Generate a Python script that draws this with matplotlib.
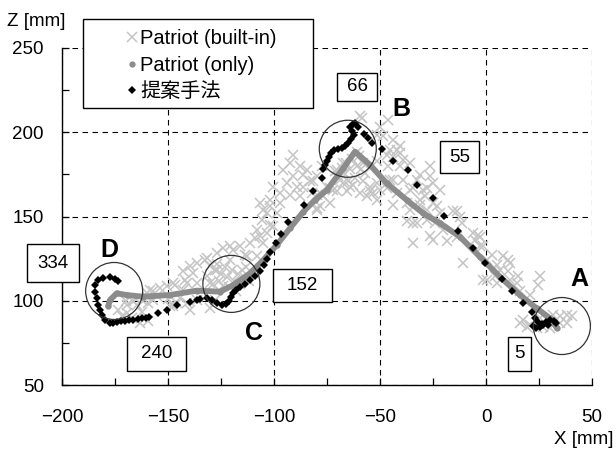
import numpy as np
import matplotlib
matplotlib.use("Agg")
import matplotlib.pyplot as plt
from matplotlib.patches import Ellipse, Rectangle

plt.rcParams['font.family'] = ['Liberation Sans', 'Noto Sans CJK JP']

# Patriot (built-in) samples: X, Z [mm]
builtin_pts = [
    (-46.1, 207.4), (-50.0, 203.4), (-58.6, 208.4), (-51.6, 198.5), (-48.4, 197.5), (-42.1, 189.6),
    (-46.8, 186.6), (-43.7, 185.6), (-40.6, 187.7), (-51.6, 182.7), (-46.1, 179.7), (-40.6, 179.7),
    (-26.4, 179.7), (-32.7, 171.8), (-39.0, 171.8), (-45.3, 171.8), (-50.0, 165.9), (-53.2, 163.9),
    (-56.3, 161.9), (-51.6, 159.9), (-42.1, 163.9), (-35.8, 165.9), (-29.6, 165.9), (-37.4, 158.0),
    (-31.1, 157.0), (-43.7, 157.0), (-24.9, 158.0), (-21.7, 165.9), (-28.0, 148.1), (-21.7, 152.0),
    (-13.8, 153.0), (-12.3, 150.0), (-34.3, 146.1), (-24.9, 136.2), (-34.3, 134.2), (-20.1, 142.1),
    (-13.8, 138.1), (-6.0, 140.1), (-2.8, 138.1), (-10.7, 122.4), (-2.8, 132.2), (0.3, 124.3),
    (8.2, 126.3), (6.6, 118.4), (11.3, 122.4), (14.5, 110.5), (0.3, 112.5), (-84.6, 177.7),
    (-86.2, 167.8), (-78.3, 163.9), (-72.0, 165.9), (-67.3, 169.8), (-64.2, 167.8), (-59.4, 163.9),
    (-54.7, 167.8), (-73.6, 158.0), (-78.3, 156.0),
    (-24.9, 169.8), (-28.8, 161.9), (-15.4, 153.0), (-11.5, 146.1), (-24.1, 146.1), (-26.4, 138.2),
    (-18.5, 135.2), (-3.6, 139.2), (-5.2, 136.2), (-1.3, 132.3), (2.7, 127.3), (10.5, 124.3),
    (5.0, 121.4), (-1.3, 112.5), (4.2, 114.4), (10.5, 117.4), (15.2, 114.4), (11.3, 112.5),
    (5.0, 110.5), (16.0, 105.5), (25.5, 114.4), (24.7, 109.5), (20.8, 103.6), (16.0, 86.8),
    (17.6, 88.7), (20.8, 85.8), (25.5, 89.7), (28.6, 88.7), (31.7, 91.7), (34.9, 90.7),
    (38.0, 91.7), (40.4, 90.7), (27.0, 84.7), (30.2, 83.8), (34.9, 86.8), (38.0, 86.8),
    (23.9, 83.8), (19.2, 84.7),
    (-59.4, 209.4), (-43.7, 195.5), (-40.6, 191.6), (-45.3, 189.6), (-39.0, 183.7), (-35.8, 181.7),
    (-31.1, 174.8), (-26.4, 173.8), (-34.3, 166.9), (-28.0, 166.9), (-31.1, 160.0), (-35.8, 154.0),
    (-28.0, 154.0), (-23.3, 156.0), (-37.4, 147.1), (-32.7, 146.1), (-43.7, 171.8), (-46.8, 166.9),
    (-51.6, 169.8), (-54.7, 164.9), (-57.9, 170.8), (-62.6, 168.8), (-65.7, 164.9), (-70.4, 164.9),
    (-73.6, 166.9), (-79.9, 173.8), (-81.5, 170.8), (-76.8, 161.9), (-82.2, 163.9), (-79.9, 154.0),
    (-68.9, 171.8), (-70.4, 177.7), (-67.3, 181.7), (-77.5, 179.7),
    (-70, 174), (-67, 176), (-64, 178), (-61, 180), (-58, 182), (-66, 182), (-63, 184), (-60, 186),
    (-68, 179), (-57, 176), (-62, 173), (-65, 171), (-59, 178), (-71, 177), (-61, 188),
    (-90.9, 186.6), (-92.5, 181.7), (-87.7, 179.7), (-95.6, 177.7), (-90.9, 173.8), (-86.2, 174.8),
    (-83.0, 170.8), (-94.0, 169.8), (-89.3, 167.8), (-100.3, 167.8), (-97.2, 163.9), (-92.5, 162.9),
    (-87.7, 161.9), (-79.9, 162.9), (-75.1, 167.8), (-79.9, 155.0), (-101.9, 159.9), (-106.6, 158.0),
    (-103.4, 152.0), (-98.7, 152.0), (-105.8, 148.1), (-101.9, 145.1), (-108.2, 142.1), (-103.4, 140.2),
    (-109.0, 137.2), (-105.0, 134.2), (-111.3, 134.2), (-116.0, 132.2), (-119.2, 130.3), (-123.9, 131.3),
    (-127.0, 128.3), (-131.7, 125.3), (-136.5, 122.4), (-130.2, 120.4), (-120.8, 124.3), (-112.9, 126.3),
    (-108.2, 126.3),
    (-105.0, 154.0), (-101.9, 156.0), (-97.2, 158.0), (-100.3, 144.1), (-106.6, 138.2), (-113.7, 127.3),
    (-120.8, 132.2), (-132.5, 124.3), (-139.6, 120.4), (-142.8, 117.4),
    (-128, 118), (-125, 116), (-122, 114), (-119, 112), (-116, 110), (-126, 112), (-123, 120),
    (-120, 118), (-117, 116), (-114, 114), (-121, 108), (-118, 106), (-129, 110), (-113, 120),
    (-124, 109), (-127, 122), (-115, 118), (-112, 112),
    (-138.1, 116.4), (-131.8, 114.4), (-141.2, 110.5), (-147.5, 110.5), (-150.6, 108.5), (-153.8, 107.5),
    (-158.5, 106.5), (-142.8, 106.5), (-136.5, 110.5), (-130.2, 110.5), (-127.0, 118.4), (-159.3, 98.6),
    (-156.9, 100.6), (-164.8, 97.6), (-162.4, 93.6), (-147.5, 96.6), (-139.6, 94.7), (-136.5, 100.6),
    (-144.3, 101.6), (-127.8, 100.6), (-130.2, 95.7),
    (-142.0, 112.5), (-146.7, 109.5), (-156.9, 105.5), (-160.0, 104.6), (-161.6, 99.6), (-166.4, 99.6),
    (-169.5, 97.6), (-173.4, 94.7), (-171.8, 90.7), (-167.1, 89.7), (-163.2, 86.8), (-159.3, 87.7),
    (-149.1, 96.6), (-145.9, 98.6), (-141.2, 98.6), (-169.5, 92.7),
    (-165, 101), (-170, 100), (-160, 102), (-155, 103), (-150, 101),
]
builtin_x = [p[0] for p in builtin_pts]
builtin_z = [p[1] for p in builtin_pts]

# Patriot (only) trajectory
only_x = [33.5, 30.2, 23.9, 16.0, 6.6, -2.8, -12.3, -21.7, -29.6, -37.4, -46.8, -54.7, -61.8,
          -67.3, -75.1, -80.7, -86.2, -92.5, -98.7, -105.0, -111.3, -119.2, -125.5, -136.5,
          -149.1, -161.7, -169.5, -174.2, -177.4, -178.2]
only_z = [83.8, 89.6, 95.5, 103.4, 114.2, 126.0, 138.0, 146.0, 151.9, 159.8, 169.7, 180.6, 188.5,
          178.6, 165.7, 159.8, 152.8, 143.0, 133.1, 124.2, 116.3, 109.3, 105.4, 106.0,
          103.4, 102.4, 103.4, 104.4, 100.4, 96.9]

# Proposed method trajectory
prop_x = [33.0, 32.1, 30.2, 29.2, 28.3, 27.0, 26.4, 25.5, 24.5, 23.6, 22.2, 23.1, 21.6,
          17.6, 12.1, 7.4, -0.5, -6.0, -13.1, -19.7, -25.1, -32.7, -36.7, -44.1, -49.2, -53.6,
          -55.5, -57.5,
          -60.4, -61.8, -62.7, -64.2, -63.2, -62.3, -63.7, -65.1, -66.5, -67.9, -69.8, -71.7,
          -73.1, -74.1, -75.0, -75.9, -76.9,
          -77.5, -81.7, -85.7, -93.3, -96.7, -99.1, -102.1, -103.4, -104.7, -106.6, -109.0,
          -111.3, -113.7, -116.0, -117.9, -119.3, -120.3, -121.2, -122.6, -124.5, -126.9,
          -129.2, -131.6, -134.9, -136.5, -139.6, -145.9, -150.6, -154.6, -158.8, -160.6,
          -162.4, -164.3, -166.4, -168.5, -170.3, -172.1, -174.2, -175.9, -177.4, -179.7,
          -181.3, -182.1, -182.9, -183.6, -184.4, -184.4, -182.9, -180.5, -177.4, -175.0,
          -173.4]
prop_z = [86.8, 88.0, 88.6, 85.6, 87.4, 85.5, 86.2, 84.4, 87.4, 83.8, 85.0, 89.8, 93.6,
          98.5, 105.8, 112.9, 122.6, 131.5, 141.6, 150.5, 160.8, 168.4, 177.3, 182.8, 189.9, 193.4,
          196.4, 199.0,
          203.1, 205.3, 204.9, 203.1, 200.7, 198.4, 196.0, 193.6, 191.8, 190.7, 190.1, 189.5,
          187.7, 185.3, 182.9, 180.6, 178.2,
          172.7, 165.4, 156.8, 146.9, 139.6, 134.1, 128.9, 124.8, 121.2, 117.7, 114.7,
          112.3, 110.0, 108.2, 106.4, 104.6, 102.2, 99.9, 98.1, 97.5, 98.7,
          100.4, 101.6, 101.3, 100.4, 99.4, 97.2, 94.5, 92.6, 90.2, 89.8,
          89.6, 89.0, 88.6, 88.5, 88.2, 87.7, 87.6, 86.9, 86.6, 88.6,
          91.5, 94.5, 97.5, 101.4, 105.4, 109.3, 112.3, 113.3, 114.3, 112.7,
          111.7]

# Circled positions and their letters
circle_x = [35.8, -65.2, -120.1, -175.4]
circle_z = [85.0, 190.2, 110.0, 105.8]
letters = ['A', 'B', 'C', 'D']
letter_x = [43.9, -40.1, -109.3, -177.7]
letter_z = [112.9, 213.6, 80.7, 130.1]

# Frame numbers
frame_labels = ['5', '55', '66', '152', '240', '334']
frame_x = [15.9, -12.5, -60.8, -86.7, -155.5, -204.2]
frame_z = [68.6, 185.3, 226.9, 109.0, 68.4, 122.4]

# box sizes (pixels) around the frame numbers
box_w_px = [23, 39, 40, 59, 59, 52]
box_h_px = [34, 32, 28, 33, 34, 38]

W, H = 616, 450
fig = plt.figure(figsize=(W / 100, H / 100), dpi=100)
ax_l, ax_b, ax_w, ax_h = 62, 65, 530, 337
ax = fig.add_axes([ax_l / W, ax_b / H, ax_w / W, ax_h / H])

XMIN, XMAX, ZMIN, ZMAX = -200, 50, 50, 250
px_per_x = ax_w / (XMAX - XMIN)
px_per_z = ax_h / (ZMAX - ZMIN)

ax.plot(builtin_x, builtin_z, 'x', color='#c4c4c4', ms=6.5, mew=1.1, zorder=2,
        label='Patriot (built-in)')
ax.plot(only_x, only_z, '-', color='#8c8c8c', lw=4.2, solid_capstyle='round',
        solid_joinstyle='round', zorder=3)
ax.plot(only_x, only_z, 'o', color='#8c8c8c', ms=3.5, zorder=3, label='Patriot (only)')
ax.plot(prop_x, prop_z, 'D', color='black', ms=4.2, mew=0, zorder=4, label='提案手法')

# circles: equal radius on screen (28.5 px)
r_px = 28.5
for cx, cz in zip(circle_x, circle_z):
    ax.add_patch(Ellipse((cx, cz), 2 * r_px / px_per_x, 2 * r_px / px_per_z, fill=False,
                         edgecolor='#333333', lw=0.9, zorder=5))

for t, x, z in zip(letters, letter_x, letter_z):
    ax.text(x, z, t, fontsize=18, fontweight='bold', ha='center', va='center', zorder=6)

for t, x, z, bw, bh in zip(frame_labels, frame_x, frame_z, box_w_px, box_h_px):
    w = bw / px_per_x
    h = bh / px_per_z
    ax.add_patch(Rectangle((x - w / 2, z - h / 2), w, h, facecolor='white', edgecolor='black',
                           lw=1.0, zorder=7, clip_on=False))
    ax.text(x, z, t, fontsize=13.5, ha='center', va='center', zorder=8, clip_on=False)

ax.set_xlim(XMIN, XMAX)
ax.set_ylim(ZMIN, ZMAX)
ax.set_xticks(np.arange(-200, 51, 50))
ax.set_yticks(np.arange(50, 251, 50))
ax.set_xticks(np.arange(-200, 51, 25), minor=True)
ax.set_yticks(np.arange(50, 251, 25), minor=True)
ax.grid(True, which='major', color='black', linestyle=(0, (5, 4)), linewidth=0.8)
ax.set_axisbelow(True)
for s in ['top', 'right']:
    ax.spines[s].set_visible(False)
for s in ['left', 'bottom']:
    ax.spines[s].set_linewidth(1.0)
ax.tick_params(which='both', direction='in', length=5, width=0.9, labelsize=13.5)
ax.tick_params(axis='x', pad=17)
ax.tick_params(axis='y', pad=13)

fig.text(36 / W, 1 - 21 / H, 'Z [mm]', ha='center', va='center', fontsize=13.5)
fig.text(614 / W, 1 - 440 / H, 'X [mm]', ha='right', va='center', fontsize=13.5)

# legend: entries without frame, frame drawn as its own rectangle
leg = ax.legend(loc='upper left', bbox_to_anchor=(126.8 / W, 1 - 29 / H),
                bbox_transform=fig.transFigure, borderaxespad=0, borderpad=0, fontsize=14.5,
                frameon=False, labelspacing=0.38, handlelength=0.5, handletextpad=0.17)
leg.set_zorder(11)
ax.add_patch(Rectangle((83 / W, 1 - 108 / H), 230 / W, 89 / H, transform=fig.transFigure,
                       facecolor='white', edgecolor='black', lw=1.0, zorder=10, clip_on=False))

fig.savefig('out.png', dpi=100)
